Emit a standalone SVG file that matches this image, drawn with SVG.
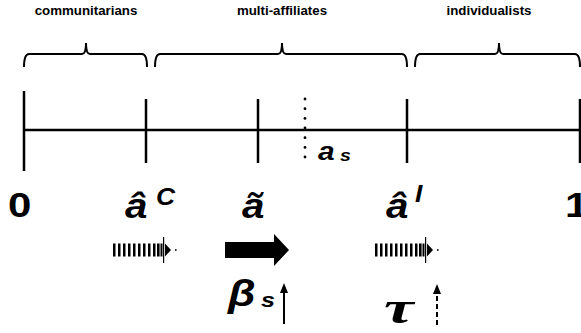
<svg xmlns="http://www.w3.org/2000/svg" width="581" height="333" viewBox="0 0 581 333">
<style>
.ln{stroke:#000;stroke-width:2.5;fill:none}
.br{stroke:#000;stroke-width:2;fill:none}
.lbl{font-family:"Liberation Sans",Arial,sans-serif;font-weight:bold;font-size:13.3px;text-anchor:middle;fill:#000}
.big{font-family:"Liberation Sans",Arial,sans-serif;font-weight:bold;font-size:35px;fill:#000}
.sym{font-family:"Liberation Sans",Arial,sans-serif;font-weight:bold;font-style:italic;fill:#000}
.tau{font-family:"Liberation Serif","Times New Roman",serif;font-weight:bold;font-style:italic;fill:#000}
</style>
<defs>
<g id="striped">
<rect x="0" y="-6.5" width="2.5" height="13"/><rect x="5" y="-6.5" width="2.5" height="13"/><rect x="10" y="-6.5" width="2.5" height="13"/><rect x="15" y="-6.5" width="2.5" height="13"/><rect x="20" y="-6.5" width="2.5" height="13"/><rect x="25" y="-6.5" width="2.5" height="13"/><rect x="30" y="-6.5" width="2.5" height="13"/><rect x="35" y="-6.5" width="2.5" height="13"/><rect x="40" y="-6.5" width="2.5" height="13"/><rect x="44" y="-6.5" width="2.6" height="13"/><rect x="47.5" y="-6.5" width="2" height="13"/>
<rect x="50" y="-13" width="1.2" height="26"/>
<polygon points="52,-6.5 58,0 52,6.5"/>
<rect x="62" y="-0.8" width="1.6" height="1.6"/>
</g>
</defs>
<rect width="581" height="333" fill="#fff"/>
<g id="braces">
<path class="br" d="M24,67 Q24,54 29,54 L82,54 Q86,54 86,43 Q86,54 90,54 L142,54 Q147,54 147,67"/>
<path class="br" d="M155,67 Q155,54 160,54 L278,54 Q282,54 282,43 Q282,54 286,54 L402,54 Q407,54 407,67"/>
<path class="br" d="M415,67 Q415,54 420,54 L495,54 Q499,54 499,43 Q499,54 503,54 L575,54 Q580,54 580,67"/>
</g>
<g id="group-labels">
<text class="lbl" x="86" y="15">communitarians</text>
<text class="lbl" x="282" y="15">multi-affiliates</text>
<text class="lbl" x="489" y="15">individualists</text>
</g>
<g id="axis">
<line class="ln" x1="24" y1="130" x2="581" y2="130"/>
<line class="ln" x1="24" y1="91" x2="24" y2="171"/>
<line class="ln" x1="146" y1="99" x2="146" y2="163"/>
<line class="ln" x1="258" y1="99" x2="258" y2="163"/>
<line class="ln" x1="407" y1="99" x2="407" y2="163"/>
<line class="ln" x1="580" y1="99" x2="580" y2="163"/>
</g>
<g id="as-marker">
<g fill="#000">
<circle cx="305" cy="99" r="1.4"/><circle cx="305" cy="108.7" r="1.4"/><circle cx="305" cy="118.4" r="1.4"/><circle cx="305" cy="128" r="1.4"/><circle cx="305" cy="137.7" r="1.4"/><circle cx="305" cy="147.4" r="1.4"/><circle cx="305" cy="157" r="1.4"/>
</g>
<text class="sym" transform="translate(318,160) scale(1.15,1)" font-size="26">a</text>
<text class="sym" transform="translate(340,161) scale(1.15,1)" font-size="17">s</text>
</g>
<g id="axis-labels">
<text class="big" transform="translate(8,217) scale(1.2,1)">0</text>
<text class="big" transform="translate(565,217) scale(1.2,1)">1</text>
<text class="sym" transform="translate(125,218) scale(1.12,1)" font-size="36">â</text>
<text class="sym" transform="translate(156,205) scale(1.1,1)" font-size="24">C</text>
<text class="sym" transform="translate(242,218) scale(1.12,1)" font-size="36">ã</text>
<text class="sym" transform="translate(386,218) scale(1.12,1)" font-size="36">â</text>
<text class="sym" transform="translate(415,202) scale(1.1,1)" font-size="24">I</text>
</g>
<g id="shift-arrows">
<use id="striped-arrow-1" href="#striped" x="113" y="250"/>
<polygon id="solid-arrow" points="225,242 274,242 274,234 289,250 274,266 274,258 225,258" fill="#000"/>
<use id="striped-arrow-2" href="#striped" x="375" y="250"/>
</g>
<g id="beta">
<text class="sym" transform="translate(228,306) scale(1.2,1)" font-size="37">β</text>
<text class="sym" transform="translate(261,307) scale(1.2,1)" font-size="21">s</text>
<line x1="284" y1="324" x2="284" y2="291" stroke="#000" stroke-width="2"/>
<polygon points="284,283 280,293 288,293" fill="#000"/>
</g>
<g id="tau">
<text class="tau" transform="translate(384,323) scale(1.45,1)" font-size="46">τ</text>
<line x1="437" y1="325" x2="437" y2="292" stroke="#000" stroke-width="2" stroke-dasharray="5,3"/>
<polygon points="437,284 433,294 441,294" fill="#000"/>
</g>
</svg>
